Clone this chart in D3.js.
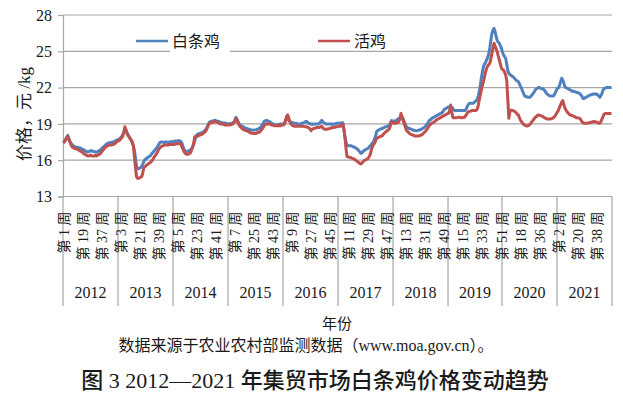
<!DOCTYPE html>
<html>
<head>
<meta charset="utf-8">
<script src="https://cdn.jsdelivr.net/npm/d3@7"></script>
<style>
  body { margin: 0; background: #fff; }
  text { font-family: "Liberation Serif", "Noto Sans CJK SC", serif; fill: #1a1a1a; }
</style>
</head>
<body>
<svg id="chart" width="623" height="394"></svg>
<script>
const years = [2012, 2013, 2014, 2015, 2016, 2017, 2018, 2019, 2020, 2021];
const weeksPerYear = [52, 52, 52, 52, 52, 52, 52, 51, 52, 52];
const yTicks = [13, 16, 19, 22, 25, 28];
const seriesNames = ["白条鸡", "活鸡"];

// 白条鸡, one value per week
const whiteChicken = [
  // 2012
  17.5, 17.6, 17.7, 17.9, 18.05, 17.8, 17.6, 17.4, 17.3, 17.2, 17.15, 17.1, 17.1, 17.05, 17.05, 17.0, 17.0, 16.95, 16.9, 16.85, 16.8, 16.75, 16.7, 16.7, 16.7, 16.75,
  16.8, 16.75, 16.75, 16.7, 16.7, 16.65, 16.7, 16.75, 16.8, 16.85, 16.95, 17.05, 17.1, 17.2, 17.3, 17.35, 17.4, 17.45, 17.45, 17.45, 17.5, 17.5, 17.55, 17.6, 17.65, 17.7,
  // 2013
  17.7, 17.75, 17.85, 17.95, 18.1, 18.3, 18.65, 18.5, 18.3, 18.1, 17.95, 17.8, 17.65, 17.5, 17.2, 16.8, 16.2, 15.5, 15.3, 15.3, 15.35, 15.4, 15.5, 15.7, 15.9, 16.05,
  16.1, 16.2, 16.25, 16.3, 16.35, 16.5, 16.6, 16.7, 16.8, 16.9, 17.0, 17.15, 17.3, 17.45, 17.5, 17.5, 17.5, 17.45, 17.5, 17.5, 17.5, 17.45, 17.5, 17.5, 17.55, 17.5,
  // 2014
  17.55, 17.55, 17.6, 17.55, 17.6, 17.6, 17.6, 17.55, 17.4, 17.1, 16.9, 16.7, 16.7, 16.75, 16.75, 16.8, 16.85, 16.95, 17.05, 17.3, 17.6, 17.9, 18.1, 18.15, 18.2, 18.2,
  18.25, 18.3, 18.3, 18.4, 18.5, 18.6, 18.8, 19.0, 19.15, 19.2, 19.2, 19.25, 19.25, 19.3, 19.27, 19.25, 19.2, 19.2, 19.15, 19.1, 19.1, 19.05, 19.1, 19.05, 19.05, 19.0,
  // 2015
  19.0, 19.0, 19.05, 19.0, 19.05, 19.15, 19.3, 19.54, 19.4, 19.2, 19.0, 18.9, 18.85, 18.8, 18.75, 18.7, 18.65, 18.63, 18.6, 18.55, 18.55, 18.5, 18.5, 18.5, 18.5, 18.5,
  18.5, 18.55, 18.6, 18.6, 18.7, 18.8, 18.95, 19.1, 19.25, 19.25, 19.3, 19.25, 19.2, 19.18, 19.1, 19.05, 19.0, 18.95, 18.9, 18.9, 18.9, 18.95, 18.95, 19.0, 19.0, 19.0,
  // 2016
  19.0, 19.1, 19.3, 19.65, 19.5, 19.3, 19.2, 19.15, 19.1, 19.1, 19.05, 19.05, 19.05, 19.0, 19.0, 19.0, 19.0, 19.05, 19.05, 19.1, 19.15, 19.2, 19.2, 19.1, 19.05, 19.0,
  19.0, 18.95, 19.0, 19.0, 19.0, 19.0, 19.0, 19.0, 19.05, 19.15, 19.3, 19.2, 19.1, 19.05, 19.0, 19.0, 19.0, 19.0, 19.0, 19.0, 18.95, 19.0, 19.0, 19.0, 19.05, 19.05,
  // 2017
  19.05, 19.05, 19.05, 19.1, 19.1, 18.6, 18.0, 17.5, 17.26, 17.2, 17.2, 17.2, 17.2, 17.15, 17.1, 17.1, 17.0, 16.98, 16.9, 16.8, 16.7, 16.57, 16.6, 16.7, 16.8, 16.84,
  16.9, 16.95, 16.98, 17.1, 17.2, 17.3, 17.4, 17.5, 17.75, 18.0, 18.36, 18.45, 18.5, 18.55, 18.6, 18.6, 18.65, 18.7, 18.75, 18.77, 18.8, 18.85, 18.9, 19.05, 19.27, 19.25,
  // 2018
  19.25, 19.25, 19.27, 19.3, 19.4, 19.45, 19.5, 19.65, 19.55, 19.45, 19.2, 19.0, 18.77, 18.7, 18.65, 18.6, 18.6, 18.55, 18.5, 18.5, 18.45, 18.44, 18.44, 18.45, 18.5, 18.5,
  18.55, 18.6, 18.65, 18.7, 18.77, 18.9, 19.0, 19.15, 19.3, 19.35, 19.45, 19.5, 19.55, 19.6, 19.65, 19.7, 19.75, 19.8, 19.85, 19.87, 19.95, 20.05, 20.2, 20.25, 20.3, 20.37,
  // 2019
  20.4, 20.4, 20.42, 20.35, 20.3, 20.15, 20.1, 20.1, 20.1, 20.1, 20.1, 20.1, 20.1, 20.1, 20.1, 20.1, 20.15, 20.3, 20.5, 20.64, 20.7, 20.7, 20.7, 20.7, 20.75, 20.85,
  20.9, 21.0, 21.3, 21.66, 22.2, 22.8, 23.3, 23.73, 23.95, 24.1, 24.28, 24.5, 24.8, 25.3, 25.9, 26.48, 26.75, 26.9, 26.6, 26.2, 25.9, 25.75, 25.66, 25.45, 25.25,
  // 2020
  24.9, 24.7, 24.55, 24.42, 23.9, 23.4, 23.18, 23.1, 23.0, 22.95, 22.9, 22.8, 22.7, 22.6, 22.55, 22.49, 22.3, 22.1, 21.94, 21.7, 21.5, 21.3, 21.25, 21.25, 21.2, 21.2,
  21.2, 21.3, 21.4, 21.53, 21.65, 21.8, 21.9, 21.95, 22.02, 22.0, 21.95, 21.9, 21.9, 21.85, 21.75, 21.6, 21.5, 21.4, 21.35, 21.3, 21.3, 21.3, 21.3, 21.4, 21.6, 21.8,
  // 2021
  21.95, 22.0, 22.2, 22.5, 22.77, 22.6, 22.4, 22.05, 22.0, 21.95, 21.9, 21.85, 21.8, 21.75, 21.7, 21.7, 21.66, 21.65, 21.6, 21.6, 21.55, 21.5, 21.4, 21.3, 21.1, 21.1,
  21.15, 21.2, 21.25, 21.3, 21.35, 21.4, 21.4, 21.45, 21.47, 21.47, 21.45, 21.47, 21.4, 21.3, 21.2, 21.35, 21.5, 21.8, 21.9, 21.95, 22.0, 22.0, 22.0, 22.0, 22.0, 22.02
];

// 活鸡, one value per week
const liveChicken = [
  // 2012
  17.4, 17.55, 17.7, 17.85, 17.95, 17.7, 17.5, 17.3, 17.1, 17.05, 17.0, 16.95, 16.95, 16.9, 16.85, 16.8, 16.75, 16.7, 16.65, 16.55, 16.5, 16.45, 16.4, 16.35, 16.35, 16.4,
  16.4, 16.35, 16.35, 16.35, 16.4, 16.35, 16.4, 16.45, 16.5, 16.55, 16.7, 16.8, 16.9, 17.0, 17.1, 17.15, 17.2, 17.25, 17.25, 17.25, 17.3, 17.3, 17.35, 17.4, 17.5, 17.55,
  // 2013
  17.6, 17.65, 17.75, 17.85, 18.0, 18.3, 18.77, 18.5, 18.2, 18.05, 17.9, 17.8, 17.65, 17.45, 17.2, 16.3, 15.4, 14.63, 14.5, 14.5, 14.55, 14.6, 14.65, 15.0, 15.4, 15.46,
  15.55, 15.6, 15.7, 15.75, 15.8, 15.9, 16.0, 16.15, 16.3, 16.4, 16.55, 16.7, 16.9, 17.0, 17.1, 17.15, 17.2, 17.25, 17.25, 17.26, 17.26, 17.25, 17.3, 17.3, 17.3, 17.3,
  // 2014
  17.3, 17.3, 17.35, 17.35, 17.35, 17.4, 17.4, 17.3, 17.1, 16.9, 16.7, 16.57, 16.5, 16.5, 16.5, 16.55, 16.6, 16.84, 17.1, 17.4, 17.94, 17.95, 17.95, 18.0, 18.05, 18.08,
  18.1, 18.15, 18.2, 18.3, 18.36, 18.5, 18.7, 18.9, 19.05, 19.1, 19.1, 19.15, 19.15, 19.2, 19.18, 19.18, 19.1, 19.05, 19.0, 19.0, 19.0, 18.95, 18.95, 18.9, 18.9, 18.9,
  // 2015
  18.9, 18.9, 18.95, 18.95, 19.0, 19.1, 19.2, 19.46, 19.3, 19.1, 18.9, 18.77, 18.7, 18.6, 18.55, 18.5, 18.45, 18.44, 18.4, 18.35, 18.3, 18.25, 18.22, 18.22, 18.2, 18.2,
  18.22, 18.25, 18.3, 18.3, 18.4, 18.5, 18.6, 18.75, 18.9, 18.95, 19.0, 19.0, 19.0, 19.0, 18.95, 18.9, 18.9, 18.85, 18.85, 18.85, 18.85, 18.85, 18.85, 18.85, 18.9, 18.9,
  // 2016
  18.9, 19.0, 19.3, 19.6, 19.74, 19.45, 19.2, 19.0, 18.9, 18.85, 18.8, 18.8, 18.8, 18.8, 18.8, 18.8, 18.8, 18.8, 18.8, 18.8, 18.77, 18.77, 18.77, 18.7, 18.65, 18.6,
  18.44, 18.55, 18.6, 18.65, 18.65, 18.7, 18.7, 18.7, 18.7, 18.75, 18.8, 18.7, 18.6, 18.55, 18.55, 18.55, 18.6, 18.6, 18.65, 18.65, 18.7, 18.7, 18.7, 18.75, 18.77, 18.77,
  // 2017
  18.8, 18.8, 18.8, 18.9, 19.0, 18.6, 17.9, 17.0, 16.3, 16.28, 16.25, 16.22, 16.2, 16.15, 16.12, 16.1, 16.0, 15.95, 15.88, 15.8, 15.75, 15.69, 15.75, 15.85, 15.95, 16.0,
  16.05, 16.1, 16.16, 16.3, 16.5, 16.84, 17.1, 17.3, 17.4, 17.6, 17.8, 17.85, 17.9, 17.95, 17.98, 18.0, 18.1, 18.2, 18.3, 18.36, 18.45, 18.5, 18.6, 18.85, 19.18, 19.1,
  // 2018
  19.05, 19.05, 19.05, 19.1, 19.1, 19.2, 19.4, 19.87, 19.6, 19.3, 19.0, 18.8, 18.5, 18.4, 18.3, 18.22, 18.15, 18.1, 18.1, 18.05, 18.0, 18.0, 18.0, 18.0, 18.0, 18.05,
  18.08, 18.1, 18.2, 18.3, 18.36, 18.5, 18.6, 18.75, 18.9, 18.95, 19.05, 19.1, 19.15, 19.2, 19.3, 19.35, 19.4, 19.45, 19.5, 19.55, 19.6, 19.65, 19.7, 19.75, 19.8, 19.85,
  // 2019
  19.87, 20.1, 20.56, 20.0, 19.54, 19.5, 19.5, 19.5, 19.52, 19.54, 19.54, 19.54, 19.5, 19.5, 19.54, 19.54, 19.65, 19.8, 19.95, 20.0, 20.05, 20.05, 20.1, 20.1, 20.1, 20.1,
  20.1, 20.2, 20.5, 20.98, 21.4, 21.8, 22.2, 22.5, 22.9, 23.3, 23.6, 23.8, 23.9, 24.0, 24.4, 24.83, 25.3, 25.66, 25.4, 25.2, 24.97, 24.6, 24.28, 23.95, 23.6,
  // 2020
  23.5, 23.45, 23.25, 23.04, 22.6, 21.0, 19.46, 20.0, 20.15, 20.1, 20.1, 20.05, 20.0, 19.9, 19.8, 19.74, 19.5, 19.3, 19.18, 19.05, 18.95, 18.9, 18.85, 18.83, 18.85, 18.9,
  18.95, 19.1, 19.2, 19.3, 19.45, 19.55, 19.6, 19.7, 19.74, 19.72, 19.7, 19.65, 19.6, 19.55, 19.5, 19.45, 19.4, 19.4, 19.4, 19.4, 19.42, 19.46, 19.5, 19.6, 19.7, 19.85,
  // 2021
  20.0, 20.15, 20.4, 20.6, 20.8, 20.92, 20.6, 20.3, 20.15, 20.0, 19.9, 19.8, 19.74, 19.72, 19.7, 19.65, 19.6, 19.55, 19.5, 19.5, 19.48, 19.46, 19.35, 19.2, 19.1, 19.05,
  19.05, 19.05, 19.05, 19.1, 19.1, 19.1, 19.15, 19.15, 19.2, 19.2, 19.15, 19.15, 19.1, 19.05, 19.05, 19.2, 19.4, 19.6, 19.8, 19.85, 19.85, 19.85, 19.85, 19.85, 19.85, 19.85
];

const colors = ["#4f81bd", "#c0504d"];
const margin = { top: 15, right: 11, bottom: 197.5, left: 63 };
const width = 623;
const height = 394;

const svg = d3.select("#chart");

// one category per week, grouped by year
const weeks = [];
const yearStart = [];
years.forEach((yr, k) => {
  yearStart.push(weeks.length);
  for (let w = 1; w <= weeksPerYear[k]; w++) weeks.push({ year: yr, week: w });
});

const x = d3
  .scaleBand()
  .domain(d3.range(weeks.length))
  .range([margin.left, width - margin.right])
  .padding(0);

const y = d3
  .scaleLinear()
  .domain([13, 28])
  .range([height - margin.bottom, margin.top]);

const xMid = (i) => x(i) + x.bandwidth() / 2;
const plotRight = width - margin.right;
const plotBottom = y(13);

// gridlines
svg
  .append("g")
  .selectAll("line")
  .data(yTicks)
  .join("line")
  .attr("x1", margin.left)
  .attr("x2", plotRight)
  .attr("y1", (d) => y(d))
  .attr("y2", (d) => y(d))
  .attr("stroke", "#a6a6a6")
  .attr("stroke-width", 1.2);

// y axis
const yAxis = d3.axisLeft(y).tickValues(yTicks).tickSize(5).tickPadding(6);
const gy = svg
  .append("g")
  .attr("transform", `translate(${margin.left},0)`)
  .call(yAxis);
gy.select(".domain").attr("stroke", "#a6a6a6").attr("stroke-width", 1.2);
gy.selectAll(".tick line").attr("stroke", "#a6a6a6").attr("stroke-width", 1.2);
gy.selectAll(".tick text")
  .style("font-family", "'Liberation Serif', serif")
  .style("font-size", "16px")
  .attr("fill", "#1a1a1a");

// year separators below the plot
const boundaries = yearStart.map((s) => x(s)).concat([plotRight]);
svg
  .append("g")
  .selectAll("line")
  .data(boundaries)
  .join("line")
  .attr("x1", (d) => d)
  .attr("x2", (d) => d)
  .attr("y1", plotBottom)
  .attr("y2", 306)
  .attr("stroke", "#a6a6a6")
  .attr("stroke-width", 1.2);

// week labels, every 18th week
const labelIdx = d3.range(0, weeks.length, 18);
svg
  .append("g")
  .selectAll("text")
  .data(labelIdx)
  .join("text")
  .attr("transform", (i) => `translate(${xMid(i)},${plotBottom + 15}) rotate(-90)`)
  .attr("dy", "0.36em")
  .attr("text-anchor", "end")
  .style("font-size", "14px")
  .text((i) => `第 ${weeks[i].week} 周`);

// year labels
svg
  .append("g")
  .selectAll("text")
  .data(years)
  .join("text")
  .attr("x", (d, k) => (boundaries[k] + boundaries[k + 1]) / 2)
  .attr("y", 298)
  .attr("text-anchor", "middle")
  .style("font-size", "16px")
  .text((d) => d);

// series lines
const line = d3
  .line()
  .x((d, i) => xMid(i))
  .y((d) => y(d));

[whiteChicken, liveChicken].forEach((values, k) => {
  svg
    .append("path")
    .datum(values)
    .attr("fill", "none")
    .attr("stroke", colors[k])
    .attr("stroke-width", 3)
    .attr("stroke-linejoin", "round")
    .attr("d", line);
});

// legend
const legendX = [136, 318];
svg
  .append("rect")
  .attr("x", 170)
  .attr("y", 30)
  .attr("width", 60)
  .attr("height", 23)
  .attr("fill", "#fff");

seriesNames.forEach((name, k) => {
  svg
    .append("line")
    .attr("x1", legendX[k])
    .attr("x2", legendX[k] + 32)
    .attr("y1", 41)
    .attr("y2", 41)
    .attr("stroke", colors[k])
    .attr("stroke-width", 2.5);
  svg
    .append("text")
    .attr("x", legendX[k] + 36)
    .attr("y", 47)
    .style("font-family", "'Noto Sans CJK SC', sans-serif")
    .style("font-size", "16px")
    .text(name);
});

// y axis title
svg
  .append("text")
  .attr("transform", "translate(24,114) rotate(-90)")
  .attr("text-anchor", "middle")
  .attr("dy", "0.35em")
  .style("font-size", "17px")
  .text("价格，元 /kg");

// x axis title and notes
svg
  .append("text")
  .attr("x", 337)
  .attr("y", 329)
  .attr("text-anchor", "middle")
  .style("font-family", "'Noto Sans CJK SC', sans-serif")
  .style("font-size", "15px")
  .text("年份");

svg
  .append("text")
  .attr("x", 306)
  .attr("y", 351)
  .attr("text-anchor", "middle")
  .style("font-size", "16px")
  .text("数据来源于农业农村部监测数据（www.moa.gov.cn）。");

svg
  .append("text")
  .attr("x", 315)
  .attr("y", 388)
  .attr("text-anchor", "middle")
  .style("font-size", "22px")
  .style("font-weight", "500")
  .text("图 3 2012—2021 年集贸市场白条鸡价格变动趋势");
</script>
</body>
</html>
